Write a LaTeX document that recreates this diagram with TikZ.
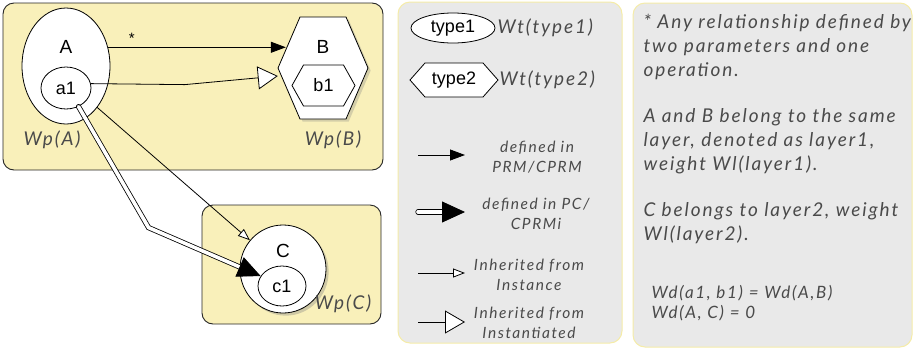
\documentclass[tikz,border=0pt]{standalone}
\usepackage{fontspec}
\setmainfont{Liberation Sans}
\newfontfamily\notefont{Lato}[LetterSpace=10]
\usetikzlibrary{arrows.meta, positioning, shapes.geometric, shadows}
\definecolor{layerfill}{HTML}{F9F0BA}
\definecolor{panelfill}{HTML}{E9E9E9}
\definecolor{panelline}{HTML}{F5ECA8}
\definecolor{notegray}{HTML}{4A4A4A}
\tikzset{%
	layer/.style={draw=black!85, fill=layerfill, rounded corners=11pt, line width=0.9pt},
	panel/.style={draw=panelline, fill=panelfill, rounded corners=12pt, line width=1pt},
	entity/.style={draw, ellipse, fill=white, inner sep=0pt, line width=0.8pt,%
		font=\fontsize{18}{20}\selectfont},
	hexbox/.style={rectangle, inner sep=0pt, font=\fontsize{18}{20}\selectfont},
	hexline/.style={draw, fill=white, line width=0.8pt, line join=miter},
	weight/.style={text=notegray, font=\notefont\itshape\fontsize{19}{20}\selectfont},
	legtext/.style={text=notegray, align=center, font=\notefont\itshape\fontsize{15.5}{19.5}\selectfont},
	dep/.style={-{Triangle[length=15pt,width=11pt]}, line width=0.8pt},
	inst/.style={-{Triangle[open, length=12pt, width=9pt, fill=white]}, line width=0.8pt},
	instd/.style={-{Triangle[open, length=20pt, width=23pt, fill=white]}, line width=0.8pt},
	pc/.style={-{Triangle[length=23pt,width=21pt]}, double=white, double distance=3.6pt,%
		line width=0.8pt, line cap=round}
}
% hexagon: centre x, centre y, half width, half height, slant
\newcommand{\hexshape}[6][]{%
	\draw[hexline, #1] (#2-#4,#3) -- (#2-#4+#6,#3-#5) -- (#2+#4-#6,#3-#5) -- (#2+#4,#3)
		-- (#2+#4-#6,#3+#5) -- (#2-#4+#6,#3+#5) -- cycle;}
\begin{document}
\begin{tikzpicture}[x=1pt, y=-1pt]
	\useasboundingbox (0,0) rectangle (913,354);
	% panels
	\node[layer, minimum width=380pt, minimum height=167pt] (L1) at (193,86.5) {};
	\node[layer, minimum width=179pt, minimum height=119pt] (L2) at (291.5,264.5) {};
	\node[panel, minimum width=224pt, minimum height=341pt] (leg) at (510,172.5) {};
	\node[panel, minimum width=279pt, minimum height=344pt] (notes) at (772.5,175) {};
	% layer 1
	\node[entity, minimum width=88pt, minimum height=116pt,%
		label={[yshift=19pt, font=\fontsize{19}{20}\selectfont]center:A}] (A) at (66,66) {};
	\node[entity, minimum width=50pt, minimum height=42pt] (a1) at (66,88) {a1};
	\hexshape[drop shadow={opacity=0.3}]{323}{68}{45}{51}{22}
	\node[hexbox, minimum width=90pt, minimum height=102pt,%
		label={[yshift=21pt, font=\fontsize{19}{20}\selectfont]center:B}] (B) at (323,68) {};
	\hexshape{323.5}{85.5}{31.5}{20.5}{11.5}
	\node[hexbox, minimum width=63pt, minimum height=41pt] (b1) at (323.5,85.5) {b1};
	\node[weight] (wpA) at (52,140) {Wp(A)};
	\node[weight] (wpB) at (333,140) {Wp(B)};
	% layer 2
	\node[entity, drop shadow={opacity=0.35}, minimum width=86pt, minimum height=88pt,%
		label={[yshift=18pt, font=\fontsize{19}{20}\selectfont]center:C}] (C) at (283,269) {};
	\node[entity, minimum width=48pt, minimum height=40pt] (c1) at (282,286) {c1};
	\node[weight] (wpC) at (343,304) {Wp(C)};
	% relations
	\draw[dep, shorten >=-8pt] (A.24) -- (A.24 -| B.west)
		node[above, pos=0.14, font=\fontsize{15}{16}\selectfont] {*};
	\draw[instd] (a1.10) -- ++(94,1) -- ([yshift=-8pt]B.west);
	\draw[inst] (A.-53) -- (C.139);
	\draw[pc] (a1.-56) -- ++(70,121) -- (c1.155);
	% legend
	\node[entity, minimum width=84pt, minimum height=30pt] (t1) at (453,28) {type1};
	\node[weight, right] (wt1) at (494,28) {Wt(type1)};
	\hexshape{454}{80}{44}{17}{15}
	\node[hexbox, minimum width=88pt, minimum height=34pt] (t2) at (454,80) {type2};
	\node[weight, right] (wt2) at (496,80) {Wt(type2)};
	\coordinate (k1s) at (418,155); \coordinate (k1e) at (465,155);
	\coordinate (k2s) at (418,212); \coordinate (k2e) at (465,212);
	\coordinate (k3s) at (418,273); \coordinate (k3e) at (465,273);
	\coordinate (k4s) at (418,322); \coordinate (k4e) at (465,322);
	\draw[dep] (k1s) -- (k1e);
	\draw[pc] (k2s) -- (k2e);
	\draw[inst] (k3s) -- (k3e);
	\draw[instd] (k4s) -- (k4e);
	\node[legtext] (k1) at (537,157) {defined in\\PRM/CPRM};
	\node[legtext] (k2) at (536,214) {defined in PC/\\CPRMi};
	\node[legtext] (k3) at (529,275) {Inherited from\\Instance};
	\node[legtext] (k4) at (529,323) {Inherited from\\Instantiated};
	% notes
	\node[anchor=north west, align=left, text=notegray,%
		font=\notefont\itshape\fontsize{19}{24}\selectfont] (n1) at (640,11)
		{* Any relationship defined by\\two parameters and one\\operation.\\[22pt]%
		A and B belong to the same\\layer, denoted as layer1,\\weight Wl(layer1).\\[22pt]%
		C belongs to layer2, weight\\Wl(layer2).};
	\node[anchor=north west, align=left, text=notegray,%
		font=\notefont\itshape\fontsize{17}{20}\selectfont] (n2) at (648,282)
		{Wd(a1, b1) = Wd(A,B)\\Wd(A, C) = 0};
\end{tikzpicture}
\end{document}
